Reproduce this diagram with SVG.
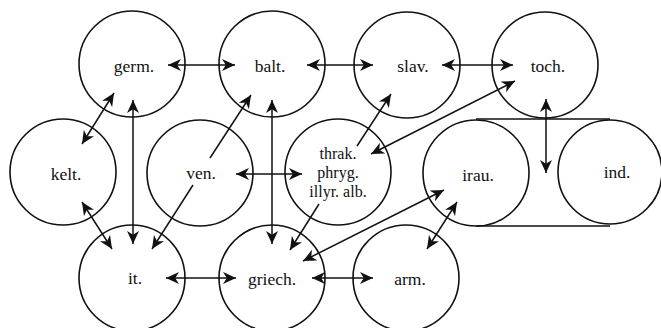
<svg xmlns="http://www.w3.org/2000/svg" width="661" height="328" viewBox="0 0 661 328">
<defs>
<style>
.n circle{fill:none;stroke:#111;stroke-width:1.6}
.n text{font-family:"Liberation Serif","Times New Roman",serif;font-size:17.5px;fill:#111;text-anchor:middle}
.n text.m{font-size:16px}
.c line{stroke:#111;stroke-width:1.5;fill:none}
.b{marker-start:url(#ah);marker-end:url(#ah)}
.s{marker-end:url(#ah)}
.frame{fill:none;stroke:#111;stroke-width:1.6}
</style>
<marker id="ah" viewBox="0 0 12 12" refX="12" refY="6" markerWidth="13" markerHeight="13" markerUnits="userSpaceOnUse" orient="auto-start-reverse">
<path d="M0,0.5 L12,6 L0,11.5 L3.5,6 Z" fill="#111"/>
</marker>
</defs>
<rect width="661" height="328" fill="#fff"/>
<g id="aryan-frame"><path class="frame" d="M476,119 L610,119 M476,226 L610,226"/></g>
<g id="germ" class="n"><circle cx="132" cy="64" r="53"/><text x="134" y="72">germ.</text></g>
<g id="balt" class="n"><circle cx="272" cy="64" r="53"/><text x="270" y="72">balt.</text></g>
<g id="slav" class="n"><circle cx="407" cy="65" r="53"/><text x="413" y="72">slav.</text></g>
<g id="toch" class="n"><circle cx="545" cy="65" r="53"/><text x="548" y="72">toch.</text></g>
<g id="kelt" class="n"><circle cx="63" cy="172" r="53"/><text x="66" y="180">kelt.</text></g>
<g id="ven" class="n"><circle cx="200" cy="173" r="53"/><text x="201" y="179">ven.</text></g>
<g id="thrak" class="n"><circle cx="338" cy="172" r="53"/><text class="m" x="338" y="159">thrak.</text><text class="m" x="338" y="178">phryg.</text><text class="m" x="338" y="197">illyr. alb.</text></g>
<g id="irau" class="n"><circle cx="476" cy="173" r="53"/><text x="478" y="181">irau.</text></g>
<g id="ind" class="n"><circle cx="610" cy="172" r="52"/><text x="617" y="178">ind.</text></g>
<g id="it" class="n"><circle cx="132" cy="278" r="53"/><text x="135" y="284">it.</text></g>
<g id="griech" class="n"><circle cx="272" cy="278" r="53"/><text x="272" y="285">griech.</text></g>
<g id="arm" class="n"><circle cx="406" cy="278" r="53"/><text x="410" y="285">arm.</text></g>
<g id="connectors" class="c">
<line class="b" x1="168" y1="65" x2="235" y2="65"/>
<line class="b" x1="307" y1="65" x2="373" y2="65"/>
<line class="b" x1="442" y1="65" x2="513" y2="65"/>
<line class="b" x1="114" y1="93" x2="82" y2="144"/>
<line class="b" x1="133" y1="100" x2="133" y2="244"/>
<line class="b" x1="272" y1="100" x2="272" y2="244"/>
<line class="s" x1="210" y1="158" x2="251" y2="95"/>
<line class="s" x1="193" y1="185" x2="152" y2="249"/>
<line class="b" x1="82" y1="202" x2="112" y2="249"/>
<line class="b" x1="236" y1="174" x2="302" y2="174"/>
<line class="s" x1="357" y1="146" x2="391" y2="94"/>
<line class="b" x1="371" y1="154" x2="515" y2="81"/>
<line class="b" x1="546" y1="99" x2="546" y2="173"/>
<line class="s" x1="319" y1="204" x2="290" y2="250"/>
<line class="b" x1="444" y1="190" x2="303" y2="261"/>
<line class="b" x1="312" y1="278" x2="373" y2="278"/>
<line class="b" x1="166" y1="278" x2="236" y2="278"/>
<line class="b" x1="457" y1="202" x2="427" y2="249"/>
</g>
</svg>
